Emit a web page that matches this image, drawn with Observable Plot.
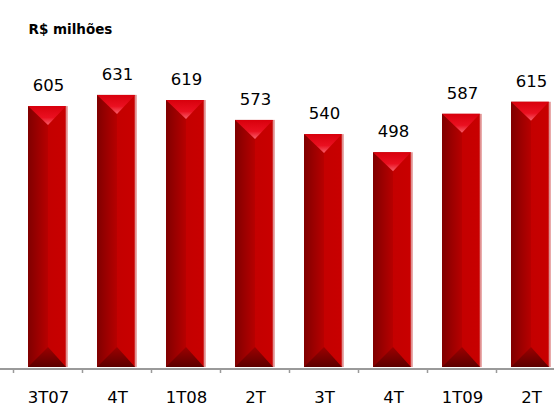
<!DOCTYPE html>
<html>
<head>
<meta charset="utf-8">
<script src="https://cdn.jsdelivr.net/npm/d3@7"></script>
<script src="https://cdn.jsdelivr.net/npm/@observablehq/plot@0.6"></script>
<style>
  html, body { margin: 0; padding: 0; background: #fff; }
  #chart svg { display: block; }
</style>
</head>
<body>
<div id="chart"></div>
<script>
const categories = ["3T07", "4T", "1T08", "2T", "3T", "4T ", "1T09", "2T "];
const tickLabels = ["3T07", "4T", "1T08", "2T", "3T", "4T", "1T09", "2T"];
const values = [605, 631, 619, 573, 540, 498, 587, 615];
const unitTitle = "R$ milhões";

const data = categories.map((c, i) => ({cat: c, value: values[i], label: tickLabels[i]}));

const FONT = "DejaVu Sans, sans-serif";

function bevels(index, scales, vals, dims) {
  const x = scales.x, y = scales.y;
  const bw = x.bandwidth ? x.bandwidth() : 40;
  const step = x.step ? x.step() : (x(categories[1]) - x(categories[0]));
  const g = d3.create("svg:g");
  const y0 = y(0);
  for (const d of data) {
    const x0 = x(d.cat), x1 = x0 + bw, xm = x0 + bw / 2;
    const yt = y(d.value);
    g.append("path")
      .attr("d", `M${x0},${yt}L${x1 - 2},${yt}L${xm},${yt + 19}Z`)
      .attr("fill", "url(#topGrad)");
    g.append("path")
      .attr("d", `M${x0},${y0}L${x1 - 2},${y0}L${xm},${y0 - 20}Z`)
      .attr("fill", "url(#botGrad)");
    const xb = x0 - (step - bw) / 2;
    g.append("line")
      .attr("x1", xb).attr("x2", xb)
      .attr("y1", y0 + 1).attr("y2", y0 + 6)
      .attr("stroke", "#9a9a9a").attr("stroke-width", 1.5);
  }
  return g.node();
}

const chart = Plot.plot({
  width: 554,
  height: 407,
  marginTop: 0,
  marginBottom: 40,
  marginLeft: 0,
  marginRight: 0,
  style: {fontFamily: FONT, background: "#fff"},
  x: {domain: categories, range: [13, 567], paddingInner: 0.42, paddingOuter: 0.21, axis: null},
  y: {domain: [0, 851], axis: null},
  marks: [
    Plot.barY(data, {x: "cat", y: "value", fill: "url(#barGrad)"}),
    bevels,
    Plot.ruleY([0], {stroke: "#9a9a9a", strokeWidth: 2, dy: 1.5}),
    Plot.text(data, {x: "cat", y: "value", text: d => String(d.value), dy: -21, fontSize: 16.5, fill: "#000"}),
    Plot.text(data, {x: "cat", y: 0, text: "label", dy: 30.5, fontSize: 16.5, fill: "#000"}),
    Plot.text([unitTitle], {frameAnchor: "top-left", dx: 28, dy: 24, fontSize: 13.5, fontWeight: "bold", textAnchor: "start", fill: "#000"})
  ]
});

const defs = d3.select(chart).insert("defs", ":first-child");
const barG = defs.append("linearGradient").attr("id", "barGrad").attr("x1", 0).attr("x2", 1).attr("y1", 0).attr("y2", 0);
[[0, "#800000"], [0.25, "#9c0000"], [0.49, "#b60000"], [0.5, "#c40000"], [0.93, "#c80000"], [0.955, "#de8a8a"], [1, "#ecb8b8"]]
  .forEach(([o, c]) => barG.append("stop").attr("offset", o).attr("stop-color", c));
const topG = defs.append("linearGradient").attr("id", "topGrad").attr("x1", 0).attr("x2", 0).attr("y1", 0).attr("y2", 1);
[[0, "#d8000c"], [0.6, "#ea1020"], [1, "#f8606c"]]
  .forEach(([o, c]) => topG.append("stop").attr("offset", o).attr("stop-color", c));
const botG = defs.append("linearGradient").attr("id", "botGrad").attr("x1", 0).attr("x2", 0).attr("y1", 0).attr("y2", 1);
[[0, "#9c0000"], [1, "#5c0000"]]
  .forEach(([o, c]) => botG.append("stop").attr("offset", o).attr("stop-color", c));

document.getElementById("chart").appendChild(chart);
</script>
</body>
</html>
